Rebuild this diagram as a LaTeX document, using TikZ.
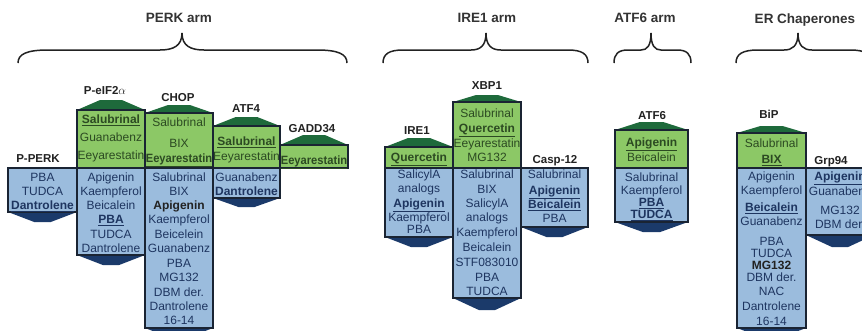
\documentclass[tikz,border=0pt]{standalone}
\usepackage{fontspec}
\usepackage{graphicx}
\setmainfont{Liberation Sans}
\definecolor{bluef}{HTML}{9BBCDD}
\definecolor{greenf}{HTML}{8CC866}
\definecolor{roofc}{HTML}{1E6A3B}
\definecolor{navyc}{HTML}{1B3A6A}
\definecolor{edgec}{HTML}{1A2433}
\definecolor{btext}{HTML}{1E3560}
\definecolor{gtext}{HTML}{2C4A22}
\definecolor{labc}{HTML}{222222}
\definecolor{armc}{HTML}{333333}
\newcommand\bu[1]{\textbf{\underline{#1}}}
\newcommand\sq[1]{\scalebox{0.93}[1]{#1}}
\newcommand\tcol[4]{\foreach \yy/\t [count=\i] in {#4} {\node[#3] (#1-\i) at ({#2},{\yy+4.3}) {\t};}}
\newcommand\roofpart[4]{\fill[roofc] (#1,#4) -- ({#1+0.34*(#2-#1)},#3) -- ({#2-0.34*(#2-#1)},#3) -- (#2,#4) -- cycle;}
\newcommand\greenpart[4]{\fill[greenf] (#1,#3) rectangle (#2,#4);}
\newcommand\bluepart[4]{\fill[bluef] (#1,#3) rectangle (#2,#4);}
\newcommand\chev[4]{\fill[navyc] (#1,#3) -- (#2,#3) -- ({#2-0.38*(#2-#1)},#4) -- ({#1+0.38*(#2-#1)},#4) -- cycle;}
\newcommand\outl[4]{\draw[edge] (#1,#3) rectangle (#2,#4);}
\newcommand\midl[3]{\draw[edge] (#1,#3) -- (#2,#3);}
\newcommand\bracedraw[5]{\draw[bracec] (#1,63) .. controls (#1,54) and ({#1+0.3*#4},50) .. ({#1+#4},50) -- ({#2-#5},50) .. controls ({#2-0.4*#5},50) and (#2,46) .. (#2,33) .. controls (#2,46) and ({#2+0.4*#5},50) .. ({#2+#5},50) -- ({#3-#4},50) .. controls ({#3-0.3*#4},50) and (#3,54) .. (#3,63);}
\begin{document}
\begin{tikzpicture}[x=1pt,y=-1pt,
  edge/.style={draw=edgec,line width=1.1pt},
  bracec/.style={draw=labc,line width=1.5pt},
  tb/.style={font=\fontsize{12}{14}\selectfont,text=btext,anchor=base,inner sep=0pt},
  tg/.style={font=\fontsize{12}{14}\selectfont,text=gtext,anchor=base,inner sep=0pt},
  lab/.style={font=\bfseries\fontsize{11.5}{13}\selectfont,text=labc,anchor=base,inner sep=0pt},
  arm/.style={font=\bfseries\fontsize{13.5}{15}\selectfont,text=armc,anchor=base,inner sep=0pt}]
\useasboundingbox (0,0) rectangle (862,330);
\fill[white] (0,0) rectangle (862,330);
\begin{scope}
\clip (0,0) rectangle (862,330);
% braces
\bracedraw{18}{182}{347}{30}{22}
\bracedraw{383}{486}{588}{20}{15}
\bracedraw{614}{651}{691}{14}{10}
\bracedraw{736}{798}{872}{22}{14}
% P-PERK
\bluepart{8}{77}{168}{212}\chev{8}{77}{212}{222}\outl{8}{77}{168}{212}
% P-eIF2a
\roofpart{77}{145}{100}{110}\greenpart{77}{145}{110}{168}\bluepart{77}{145}{168}{255}\chev{77}{145}{255}{265}
\outl{77}{145}{110}{255}\midl{77}{145}{168}
% CHOP
\roofpart{145}{213}{105}{113}\greenpart{145}{213}{113}{168}\bluepart{145}{213}{168}{328}\chev{145}{213}{328}{338}
\outl{145}{213}{113}{328}\midl{145}{213}{168}
% ATF4
\roofpart{213}{280}{117}{126}\greenpart{213}{280}{126}{168}\bluepart{213}{280}{168}{198}\chev{213}{280}{198}{207}
\outl{213}{280}{126}{198}\midl{213}{280}{168}
% GADD34
\roofpart{280}{348}{135}{145}\greenpart{280}{348}{145}{168}\outl{280}{348}{145}{168}
% IRE1
\roofpart{385}{453}{138}{147}\greenpart{385}{453}{147}{168}\bluepart{385}{453}{168}{237}\chev{385}{453}{237}{247}
\outl{385}{453}{147}{237}\midl{385}{453}{168}
% XBP1
\roofpart{453}{521}{95}{102}\greenpart{453}{521}{102}{168}\bluepart{453}{521}{168}{298}\chev{453}{521}{298}{310}
\outl{453}{521}{102}{298}\midl{453}{521}{168}
% Casp-12
\bluepart{521}{588}{168}{227}\chev{521}{588}{227}{237}\outl{521}{588}{168}{227}
% ATF6
\roofpart{615}{688}{122}{130}\greenpart{615}{688}{130}{168}\bluepart{615}{688}{168}{222}\chev{615}{688}{222}{232}
\outl{615}{688}{130}{222}\midl{615}{688}{168}
% BiP
\roofpart{737}{806}{126}{133}\greenpart{737}{806}{133}{168}\bluepart{737}{806}{168}{328}\chev{737}{806}{328}{338}
\outl{737}{806}{133}{328}\midl{737}{806}{168}
% Grp94
\bluepart{806}{874}{168}{235}\chev{806}{874}{235}{247}\outl{806}{874}{168}{235}
% texts
\tcol{pperkb}{42.5}{tb}{177/PBA,191/TUDCA,205/{\bu{Dantrolene}}}
\tcol{peifg}{111}{tg}{119/{\bu{Salubrinal}},137/Guanabenz,155/Eeyarestatin}
\tcol{peifb}{111}{tb}{177/Apigenin,191/Kaempferol,205/Beicalein,219/{\bu{PBA}},234/TUDCA,248/Dantrolene}
\tcol{chopg}{179}{tg}{122/Salubrinal,143/BIX,158/{\bu{\sq{Eeyarestatin}}}}
\tcol{chopb}{179}{tb}{177/Salubrinal,191/BIX,205/{\textcolor{labc}{\textbf{Apigenin}}},219/Kaempferol,234/Beicelein,248/Guanabenz,263/PBA,277/MG132,292/DBM der.,306/Dantrolene,320/16-14}
\tcol{atffourg}{246.5}{tg}{141/{\bu{Salubrinal}},156/Eeyarestatin}
\tcol{atffourb}{246.5}{tb}{177/Guanabenz,191/{\textbf{Dantrolene}}}
\tcol{gaddg}{314}{tg}{160/{\bu{\sq{Eeyarestatin}}}}
\tcol{ireg}{419}{tg}{157/{\bu{Quercetin}}}
\tcol{ireb}{419}{tb}{174/SalicylA,188/analogs,203/{\bu{Apigenin}},217/Kaempferol,229/PBA}
\tcol{xbpg}{487}{tg}{113/Salubrinal,128/{\bu{Quercetin}},143/Eeyarestatin,157/MG132}
\tcol{xbpb}{487}{tb}{174/Salubrinal,189/BIX,203/SalicylA,217/analogs,232/Kaempferol,247/Beicalein,262/STF083010,277/PBA,291/TUDCA}
\tcol{caspb}{554.5}{tb}{174/Salubrinal,190/{\bu{Apigenin}},204/{\bu{Beicalein}},218/PBA}
\tcol{atfsixg}{651.5}{tg}{142/{\bu{Apigenin}},157/Beicalein}
\tcol{atfsixb}{651.5}{tb}{177/Salubrinal,190/Kaempferol,202/{\bu{PBA}},214/{\bu{TUDCA}}}
\tcol{bipg}{771.5}{tg}{143/Salubrinal,159/{\bu{BIX}}}
\tcol{bipb}{771.5}{tb}{176/Apigenin,190/Kaempferol,207/{\bu{Beicalein}},221/Guanabenz,241/PBA,253/TUDCA,265/{\textcolor{labc}{\textbf{MG132}}},277/DBM der.,291/NAC,306/Dantrolene,321/16-14}
\tcol{grpb}{840}{tb}{176/{\bu{Apigenin}},191/Guanabenz,210/MG132,224/DBM der.}
\end{scope}
% labels
\node[lab] (l-pperk) at (38,162.1) {P-PERK};
\node[lab] (l-peif) at (105,94.1) {P-eIF2$\alpha$};
\node[lab] (l-chop) at (178,101.1) {CHOP};
\node[lab] (l-atffour) at (246,112.1) {ATF4};
\node[lab] (l-gadd) at (312,132.1) {GADD34};
\node[lab] (l-ire) at (417,134.1) {IRE1};
\node[lab] (l-xbp) at (487,89.1) {XBP1};
\node[lab] (l-casp) at (555,163.1) {Casp-12};
\node[lab] (l-atfsix) at (652,119.1) {ATF6};
\node[lab] (l-bip) at (769,118.1) {BiP};
\node[lab] (l-grp) at (831,164.1) {Grp94};
\node[arm] (a-perk) at (179,22.8) {PERK arm};
\node[arm] (a-ire) at (487,22.8) {IRE1 arm};
\node[arm] (a-atf) at (645,22.8) {ATF6 arm};
\node[arm] (a-er) at (805,23.8) {ER Chaperones};
\end{tikzpicture}
\end{document}
